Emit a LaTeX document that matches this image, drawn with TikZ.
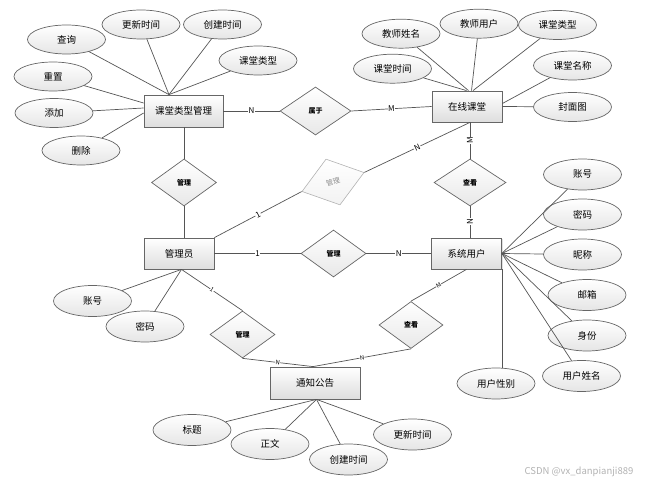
\documentclass[tikz,border=0pt]{standalone}
\usepackage{fontspec}
\setmainfont{Noto Sans CJK SC}
\usetikzlibrary{shapes.geometric,shadows}
\definecolor{edgec}{HTML}{555555}
\definecolor{bordc}{HTML}{666666}
\tikzset{
  ent/.style={rectangle, draw=bordc, line width=0.8pt, top color=white, bottom color=black!13,
    minimum width=70pt, minimum height=31pt, inner sep=0pt,
    font=\fontsize{9.5}{11}\selectfont,
    drop shadow={shadow xshift=1pt, shadow yshift=-1pt, opacity=0.25}},
  attr/.style={ellipse, draw=bordc, line width=0.7pt, top color=white, bottom color=black!10,
    minimum width=78pt, minimum height=29pt, inner sep=0pt,
    font=\fontsize{9.5}{11}\selectfont},
  rel/.style={diamond, draw=bordc, line width=0.7pt, top color=white, bottom color=black!9,
    minimum width=65pt, minimum height=47pt, inner sep=0pt,
    font=\fontsize{7}{8}\selectfont\bfseries},
  grel/.style={diamond, draw=black!30, line width=0.6pt, top color=white, bottom color=black!5,
    minimum width=65pt, minimum height=48pt, inner sep=0pt, text=black!45,
    font=\fontsize{7}{8}\selectfont},
  conn/.style={draw=edgec, line width=0.7pt},
  card/.style={fill=white, inner sep=0.6pt, font=\fontsize{8}{9}\selectfont},
  scard/.style={fill=white, inner sep=0.3pt, font=\fontsize{6}{7}\selectfont},
}
\begin{document}
\begin{tikzpicture}[x=1pt,y=-1pt]
\useasboundingbox (0,0) rectangle (658,486);
% entities
\node[ent, minimum width=79pt, minimum height=32pt] (ktm) at (183.5,111) {课堂类型管理};
\node[ent] (zx) at (467,106.5) {在线课堂};
\node[ent] (gly) at (179,253.5) {管理员};
\node[ent] (xty) at (466.5,253.5) {系统用户};
\node[ent, minimum width=90pt, minimum height=32pt] (tz) at (315,383) {通知公告};
% relations
\node[rel, minimum width=71pt, minimum height=48pt] (sy) at (315.5,111) {属于};
\node[rel] (d1) at (184,182.5) {管理};
\node[grel, rotate=17] (gd) at (333,182) {管理};
\node[rel, minimum width=72pt] (d4) at (470,182.5) {查看};
\node[rel] (d3) at (333.5,253.5) {管理};
\node[rel] (d5) at (242.5,334.5) {管理};
\node[rel, minimum width=64pt] (d6) at (411,325) {查看};
% attributes of 课堂类型管理
\node[attr] (a1) at (66.5,39.5) {查询};
\node[attr] (a2) at (141,24.5) {更新时间};
\node[attr] (a3) at (222.5,24.5) {创建时间};
\node[attr] (a4) at (258,60.5) {课堂类型};
\node[attr] (a5) at (53,76.5) {重置};
\node[attr] (a6) at (54,113) {添加};
\node[attr] (a7) at (81,150.5) {删除};
% attributes of 在线课堂
\node[attr] (b1) at (401,33.7) {教师姓名};
\node[attr] (b2) at (479,23.7) {教师用户};
\node[attr] (b3) at (557.5,25) {课堂类型};
\node[attr] (b4) at (392.5,68.7) {课堂时间};
\node[attr] (b5) at (572.5,65.5) {课堂名称};
\node[attr] (b6) at (572.5,107) {封面图};
% attributes of 系统用户
\node[attr, minimum height=31pt] (c1) at (582.5,174.5) {账号};
\node[attr, minimum height=31pt] (c2) at (582.5,214.5) {密码};
\node[attr, minimum height=31pt] (c3) at (582.5,254.5) {昵称};
\node[attr, minimum height=31pt] (c4) at (587,295) {邮箱};
\node[attr, minimum height=31pt] (c5) at (587,335.5) {身份};
\node[attr, minimum height=31pt] (c6) at (581.5,376) {用户姓名};
\node[attr, minimum height=31pt] (c7) at (496,383.5) {用户性别};
% attributes of 管理员
\node[attr, minimum height=31pt] (e1) at (92.5,301) {账号};
\node[attr, minimum height=31pt] (e2) at (145,326.5) {密码};
% attributes of 通知公告
\node[attr, minimum height=31pt] (f1) at (192,430) {标题};
\node[attr, minimum height=31pt] (f2) at (270,444) {正文};
\node[attr, minimum height=31pt] (f3) at (348.5,459.5) {创建时间};
\node[attr, minimum height=31pt] (f4) at (412.5,434.5) {更新时间};
% convergence points
\coordinate (kt) at ([xshift=-14.5pt]ktm.north);
\coordinate (zt) at ([xshift=1.5pt]zx.north);
\coordinate (gb) at ([xshift=2.5pt]gly.south);
\coordinate (tb) at ([xshift=1.5pt]tz.south);
\coordinate (tt) at ([xshift=-2pt]tz.north);
% attribute connectors
\draw[conn] (a1) -- (kt);
\draw[conn] (a2) -- (kt);
\draw[conn] (a3) -- (kt);
\draw[conn] (a4) -- (kt);
\draw[conn] (a5) -- ([yshift=8pt]ktm.west);
\draw[conn] (a6) -- ([yshift=3pt]ktm.west);
\draw[conn] (a7) -- ([yshift=-2pt]ktm.west);
\draw[conn] (b4) -- ([xshift=-0.5pt]zx.north);
\draw[conn] (b1) -- (zt);
\draw[conn] (b2) -- ([xshift=4.5pt]zx.north);
\draw[conn] (b3) -- ([xshift=6pt]zx.north);
\draw[conn] (b5) -- ([yshift=3pt]zx.east);
\draw[conn] (b6) -- (zx.east);
\foreach \c in {c1,c2,c3,c4,c5,c6} \draw[conn] (\c) -- (xty.east);
\draw[conn] (xty.south east) -- (xty.south east |- c7.north);
\draw[conn] (e1) -- (gb);
\draw[conn] (e2) -- (gb);
\foreach \f in {f1,f2,f3,f4} \draw[conn] (\f) -- (tb);
% relation connectors
\draw[conn] (ktm.east) -- node[card]{N} (sy.west);
\draw[conn] (sy.east) -- node[card]{M} (zx.west);
\draw[conn] (ktm.south -| d1.north) -- (d1.north);
\draw[conn] (d1.south) -- (d1.south |- gly.north);
\draw[conn] (gly.north east) -- node[card, sloped]{1} (gd.west);
\draw[conn] (gd.east) -- node[card, sloped]{N} ([xshift=3pt]zx.south);
\draw[conn] (d4.north |- zx.south) -- node[card, rotate=90]{M} (d4.north);
\draw[conn] (d4.south) -- node[card, rotate=90]{N} (d4.south |- xty.north);
\draw[conn] (gly.east) -- node[card]{1} (d3.west);
\draw[conn] (d3.east) -- node[card]{N} (xty.west);
\draw[conn] (gb) -- node[scard, sloped]{1} (d5.north);
\draw[conn] (d5.south) -- node[scard, sloped]{N} (tt);
\draw[conn] (xty.south) -- node[scard, sloped]{M} (d6.north);
\draw[conn] (d6.south) -- node[scard, sloped]{N} (tt);
% watermark
\node[text=black!30, font=\fontsize{9.5}{11}\selectfont, inner sep=0pt] (wm) at (579,471.5) {CSDN @vx\_danpianji889};
\end{tikzpicture}
\end{document}
